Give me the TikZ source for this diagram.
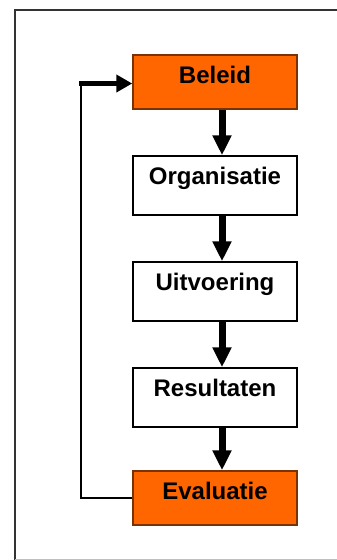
\documentclass[tikz,border=0pt]{standalone}
\usepackage{fontspec}
\setmainfont{Liberation Sans}
\usetikzlibrary{arrows.meta}
\definecolor{oranje}{HTML}{FF6600}
\definecolor{oranjerand}{HTML}{7A3300}

\begin{document}
\begin{tikzpicture}[x=1pt,y=-1pt,
    stap/.style={draw=black, line width=1.5pt, fill=white, inner sep=0pt,
      minimum width=164pt, text height=28.5pt, text depth=30.5pt,
      font=\fontsize{24}{27}\selectfont\bfseries},
    accent/.style={fill=oranje, draw=oranjerand, text depth=25.5pt},
    pijl/.style={line width=7pt, -{Triangle[width=18pt,length=20pt]}},
    terug/.style={line width=5pt, -{Triangle[width=17pt,length=16pt]}}]
  \clip (0,0) rectangle (337,560);

  % frame
  \draw[line width=2pt, black!80] (345,10) -- (15,10) -- (15,560);
  \draw[line width=2pt, black!25] (15,559.5) -- (345,559.5);

  % steps
  \node[stap, accent] (beleid) at (215,82) {Beleid};
  \node[stap] (organisatie) at (215,185.5) {Organisatie};
  \node[stap] (uitvoering) at (215,291.5) {Uitvoering};
  \node[stap] (resultaten) at (215,397.5) {Resultaten};
  \node[stap, accent] (evaluatie) at (215,498) {Evaluatie};

  % arrows down
  \draw[pijl] ([xshift=7pt]beleid.south) -- ([xshift=7pt]organisatie.north);
  \draw[pijl] ([xshift=7pt]organisatie.south) -- ([xshift=7pt]uitvoering.north);
  \draw[pijl] ([xshift=7pt]uitvoering.south) -- ([xshift=7pt]resultaten.north);
  \draw[pijl] ([xshift=7pt]resultaten.south) -- ([xshift=7pt]evaluatie.north);

  % feedback
  \coordinate (hoek) at (81,83.5);
  \draw[line width=2.5pt] (evaluatie.west) -| (hoek);
  \draw[terug] ([xshift=-2pt]hoek) -- ([yshift=-1.5pt]beleid.west);
\end{tikzpicture}
\end{document}
